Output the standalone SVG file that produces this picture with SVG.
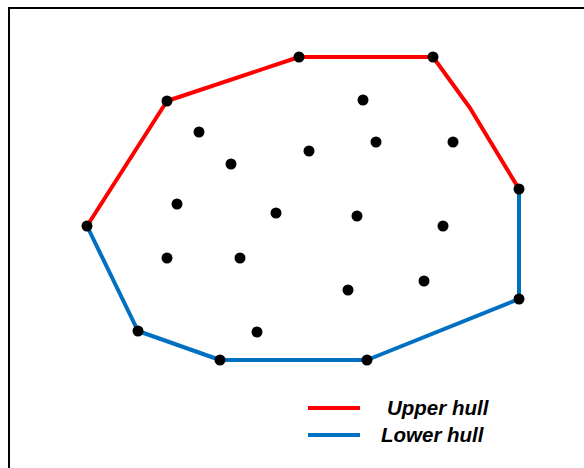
<svg xmlns="http://www.w3.org/2000/svg" width="584" height="468" viewBox="0 0 584 468">
<style>
.pt{fill:#000}
.up{fill:none;stroke:#ff0000;stroke-width:4;stroke-linejoin:round}
.lo{fill:none;stroke:#0070c0;stroke-width:4;stroke-linejoin:round}
.lbl{font-family:"Liberation Sans",Arial,sans-serif;font-weight:bold;font-style:italic;font-size:20.5px;fill:#000}
</style>
<rect width="584" height="468" fill="#fff"/>
<path d="M9,470 V8 H586" fill="none" stroke="#000" stroke-width="2"/>
<g id="connectors">
<polyline class="up" points="87,226 167,101 299,57 433,57 470,108 519,189"/>
<polyline class="lo" points="87,226 138,331 220,360 367,360 519,299 519,189"/>
</g>
<g id="hull-points">
<circle class="pt" cx="87" cy="226" r="5.5"/>
<circle class="pt" cx="167" cy="101" r="5.5"/>
<circle class="pt" cx="299" cy="57" r="5.5"/>
<circle class="pt" cx="433" cy="57" r="5.5"/>
<circle class="pt" cx="519" cy="189" r="5.5"/>
<circle class="pt" cx="519" cy="299" r="5.5"/>
<circle class="pt" cx="367" cy="360" r="5.5"/>
<circle class="pt" cx="220" cy="360" r="5.5"/>
<circle class="pt" cx="138" cy="331" r="5.5"/>
</g>
<g id="interior-points">
<circle class="pt" cx="363" cy="100" r="5.5"/>
<circle class="pt" cx="199" cy="132" r="5.5"/>
<circle class="pt" cx="376" cy="142" r="5.5"/>
<circle class="pt" cx="453" cy="142" r="5.5"/>
<circle class="pt" cx="231" cy="164" r="5.5"/>
<circle class="pt" cx="309" cy="151" r="5.5"/>
<circle class="pt" cx="177" cy="204" r="5.5"/>
<circle class="pt" cx="276" cy="213" r="5.5"/>
<circle class="pt" cx="357" cy="216" r="5.5"/>
<circle class="pt" cx="443" cy="226" r="5.5"/>
<circle class="pt" cx="167" cy="258" r="5.5"/>
<circle class="pt" cx="240" cy="258" r="5.5"/>
<circle class="pt" cx="348" cy="290" r="5.5"/>
<circle class="pt" cx="424" cy="281" r="5.5"/>
<circle class="pt" cx="257" cy="332" r="5.5"/>
</g>
<g id="legend">
<line x1="308" y1="408" x2="360" y2="408" stroke="#ff0000" stroke-width="4"/>
<text class="lbl" x="387" y="415">Upper hull</text>
<line x1="308" y1="435" x2="360" y2="435" stroke="#0070c0" stroke-width="4"/>
<text class="lbl" x="381" y="442">Lower hull</text>
</g>
</svg>
